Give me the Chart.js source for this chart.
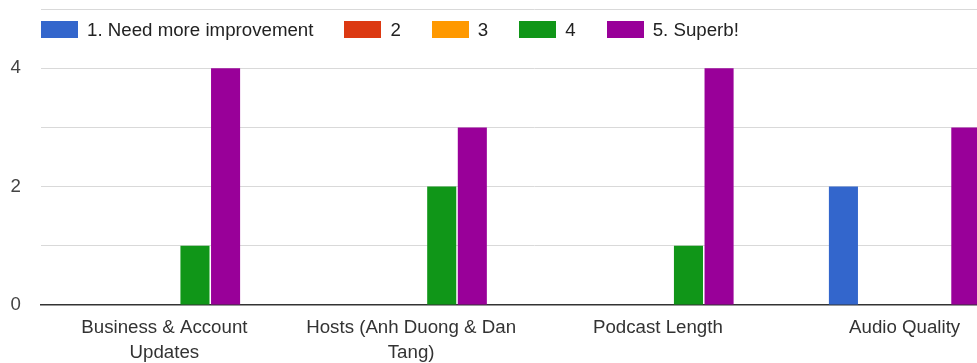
<!DOCTYPE html>
<html>
<head>
<meta charset="utf-8">
<script src="https://cdn.jsdelivr.net/npm/chart.js@4.4.1/dist/chart.umd.min.js"></script>
<style>
  html, body { margin: 0; padding: 0; background: #fff; overflow: hidden; }
  #wrap { position: relative; width: 1028px; height: 363px; }
  #legend {
    position: absolute; left: 41px; top: 21px; display: flex;
    font-family: 'Liberation Sans', Arial, sans-serif; font-size: 18.7px; color: #222;
  }
  .item { display: flex; align-items: center; height: 17px; margin-right: 31px; line-height: 17px; }
  .swatch { width: 37px; height: 17px; margin-right: 9px; }
</style>
</head>
<body>
<div id="wrap">
  <canvas id="c" width="1028" height="363"></canvas>
  <div id="legend"></div>
</div>
<script>
// Survey questions (x categories) and rating counts per answer level
const categories = [
  ['Business & Account', 'Updates'],
  ['Hosts (Anh Duong & Dan', 'Tang)'],
  'Podcast Length',
  'Audio Quality'
];
const ratingLabels = ['1. Need more improvement', '2', '3', '4', '5. Superb!'];
const rating1 = [0, 0, 0, 2];
const rating2 = [0, 0, 0, 0];
const rating3 = [0, 0, 0, 0];
const rating4 = [1, 2, 1, 0];
const rating5 = [4, 3, 4, 3];
const yTickLabels = [0, 2, 4];

const seriesColors = ['#3366cc', '#dc3912', '#ff9900', '#109618', '#990099'];
const seriesValues = [rating1, rating2, rating3, rating4, rating5];

const datasets = seriesValues.map((vals, i) => ({
  label: ratingLabels[i],
  data: vals,
  backgroundColor: seriesColors[i],
  borderWidth: 0,
  categoryPercentage: 0.62,
  barPercentage: 0.95
}));

// HTML legend built from the datasets
const htmlLegend = {
  id: 'htmlLegend',
  afterUpdate(chart) {
    const box = document.getElementById('legend');
    box.innerHTML = '';
    chart.data.datasets.forEach(ds => {
      const item = document.createElement('div');
      item.className = 'item';
      const sw = document.createElement('span');
      sw.className = 'swatch';
      sw.style.background = ds.backgroundColor;
      const tx = document.createElement('span');
      tx.textContent = ds.label;
      item.appendChild(sw);
      item.appendChild(tx);
      box.appendChild(item);
    });
  }
};

const axisFont = { family: "'Liberation Sans', Arial, sans-serif", size: 18.7, lineHeight: 1.34 };

new Chart(document.getElementById('c'), {
  type: 'bar',
  data: { labels: categories, datasets },
  plugins: [htmlLegend],
  options: {
    responsive: false,
    animation: false,
    layout: { padding: { top: 9, right: 0, left: 0, bottom: 0 } },
    plugins: { legend: { display: false }, tooltip: { enabled: false } },
    scales: {
      x: {
        grid: { display: false, drawTicks: false },
        border: { display: true, color: '#333', width: 1.5 },
        ticks: { color: '#333', font: axisFont, padding: 10, maxRotation: 0, autoSkip: false },
        afterFit(axis) { axis.height = 58; axis.paddingLeft = 0; axis.paddingRight = 0; }
      },
      y: {
        min: 0,
        max: 5,
        grid: {
          drawTicks: false,
          color: ctx => ctx.tick && ctx.tick.value === 0 ? 'rgba(0,0,0,0)' : '#d9d9d9',
          lineWidth: 1
        },
        border: { display: false },
        ticks: {
          stepSize: 1,
          color: '#444',
          font: { family: "'Liberation Sans', Arial, sans-serif", size: 18.7 },
          padding: 20,
          callback: v => (yTickLabels.includes(v) ? String(v) : '')
        },
        afterFit(axis) { axis.width = 41; axis.paddingTop = 0; axis.paddingBottom = 0; }
      }
    }
  }
});
</script>
</body>
</html>
